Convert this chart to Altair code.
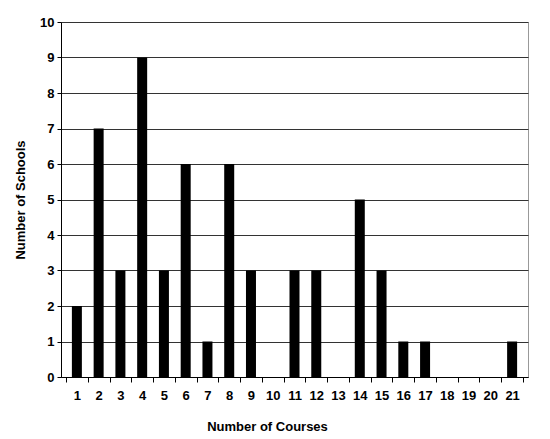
import altair as alt
import pandas as pd

courses = list(range(1, 22))
schools = [2, 7, 3, 9, 3, 6, 1, 6, 3, 0, 3, 3, 0, 5, 3, 1, 1, 0, 0, 0, 1]
y_ticks = list(range(0, 11))
x_axis_values = [i / 2 for i in range(1, 44)]  # 0.5 .. 21.5

df = pd.DataFrame({"courses": courses, "schools": schools})

font = "Liberation Sans"

chart = (
    alt.Chart(df)
    .mark_bar(color="black", width=10)
    .encode(
        x=alt.X(
            "courses:Q",
            scale=alt.Scale(domain=[0.5, 21.5], nice=False, zero=False),
            axis=alt.Axis(
                title="Number of Courses",
                values=x_axis_values,
                labelExpr="datum.value % 1 === 0 ? format(datum.value, 'd') : ''",
                tickOpacity=alt.condition("datum.value % 1 === 0", alt.value(0), alt.value(1)),
                tickSize=5,
                tickColor="black",
                domainColor="black",
                grid=False,
                labelOverlap=False,
                labelFlush=False,
                labelPadding=7,
                labelFont=font,
                labelFontSize=13,
                labelFontWeight="bold",
                labelColor="black",
                titleFont=font,
                titleFontSize=13,
                titleFontWeight="bold",
                titleColor="black",
                titlePadding=18,
                titleX=206,
                titleAnchor="middle",
            ),
        ),
        y=alt.Y(
            "schools:Q",
            scale=alt.Scale(domain=[0, 10], nice=False),
            axis=alt.Axis(
                title="Number of Schools",
                values=y_ticks,
                format="d",
                tickSize=4,
                tickColor="black",
                domainColor="black",
                grid=True,
                gridColor="#333333",
                gridWidth=1,
                labelPadding=3,
                labelFont=font,
                labelFontSize=13,
                labelFontWeight="bold",
                labelColor="black",
                titleFont=font,
                titleFontSize=13,
                titleFontWeight="bold",
                titleColor="black",
                titlePadding=12,
            ),
        ),
    )
    .properties(
        width=467,
        height=355,
        autosize=alt.AutoSizeParams(type="none"),
        padding={"left": 53, "top": 14, "right": 14, "bottom": 60},
    )
    .configure_view(stroke="#999999", strokeWidth=1)
)

chart.save("out.html", embed_options={"renderer": "svg", "actions": False})
